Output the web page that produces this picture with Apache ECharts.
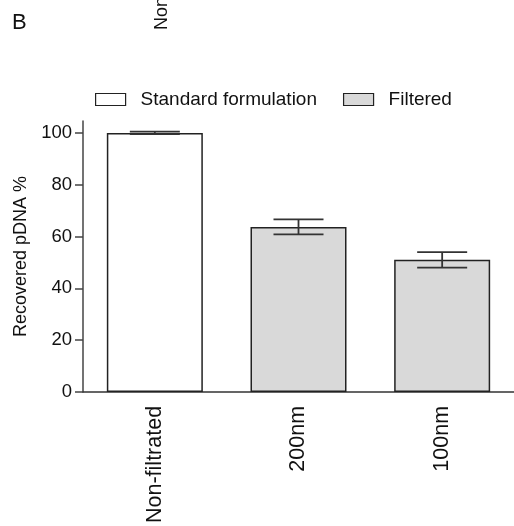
<!DOCTYPE html>
<html>
<head>
<meta charset="utf-8">
<script src="https://cdn.jsdelivr.net/npm/echarts@6/dist/echarts.min.js"></script>
<style>
  html, body { margin: 0; padding: 0; background: #fff; }
  #main { width: 514px; height: 526px; }
</style>
</head>
<body>
<div id="main"></div>
<script>
var categories = ['Non-filtrated', '200nm', '100nm'];
var standardValues = [100, null, null];
var filteredValues = [null, 63.7, 51.0];
var errorValues = [0.5, 2.9, 3.0];
var yTicks = [0, 20, 40, 60, 80, 100];

var font = 'Liberation Sans, Arial, sans-serif';

var means = categories.map(function (c, i) {
  return standardValues[i] != null ? standardValues[i] : filteredValues[i];
});
var errData = categories.map(function (c, i) {
  return [i, means[i] - errorValues[i], means[i] + errorValues[i]];
});

var option = {
  animation: false,
  backgroundColor: '#fff',
  textStyle: { fontFamily: font },
  graphic: [
    {
      type: 'text', left: 12, top: 12,
      style: { text: 'B', fontSize: 22, fontFamily: font, fill: '#111' }
    },
    {
      type: 'text', x: 153, y: 30, rotation: Math.PI / 2,
      style: { text: 'Non-filtrated', fontSize: 18, fontFamily: font, fill: '#111',
        align: 'left', verticalAlign: 'top' }
    }
  ],
  legend: {
    top: 85,
    left: 90,
    icon: 'rect',
    itemWidth: 30,
    itemHeight: 12,
    itemGap: 26,
    textStyle: { fontSize: 19, color: '#111', fontFamily: font, padding: [0, 0, 0, 10] },
    data: [
      { name: 'Standard formulation', itemStyle: { color: '#fff', borderColor: '#222', borderWidth: 1.2 } },
      { name: 'Filtered', itemStyle: { color: '#d9d9d9', borderColor: '#222', borderWidth: 1.2 } }
    ]
  },
  grid: { left: 83, right: -4, top: 121, bottom: 132, containLabel: false },
  xAxis: {
    type: 'category',
    data: categories,
    axisLine: { lineStyle: { color: '#333', width: 1.5 } },
    axisTick: { alignWithLabel: true, length: 7, lineStyle: { color: '#333', width: 1.5 } },
    axisLabel: { rotate: 90, fontSize: 21.5, color: '#111', margin: 14, fontFamily: font, interval: 0 }
  },
  yAxis: {
    type: 'value',
    min: 0,
    max: 104.6,
    interval: 20,
    name: 'Recovered pDNA %',
    nameLocation: 'middle',
    nameGap: 45,
    nameTextStyle: { fontSize: 18, color: '#111', fontFamily: font },
    splitLine: { show: false },
    axisLine: { show: true, lineStyle: { color: '#444', width: 1.5 } },
    axisTick: { show: true, length: 8, customValues: yTicks, lineStyle: { color: '#444', width: 1.5 } },
    axisLabel: { fontSize: 18.5, color: '#111', margin: 11, fontFamily: font, customValues: yTicks }
  },
  series: [
    {
      name: 'Standard formulation',
      type: 'bar',
      barWidth: 96,
      barGap: '-100%',
      data: standardValues,
      itemStyle: { color: '#fff', borderColor: '#222', borderWidth: 1.5 }
    },
    {
      name: 'Filtered',
      type: 'bar',
      barWidth: 96,
      data: filteredValues,
      itemStyle: { color: '#d9d9d9', borderColor: '#222', borderWidth: 1.5 }
    },
    {
      type: 'custom',
      name: 'error',
      data: errData,
      z: 10,
      renderItem: function (params, api) {
        var x = api.value(0);
        var lo = api.coord([x, api.value(1)]);
        var hi = api.coord([x, api.value(2)]);
        var hw = 25;
        var style = { stroke: '#333', lineWidth: 1.8 };
        return {
          type: 'group',
          children: [
            { type: 'line', shape: { x1: lo[0], y1: lo[1], x2: hi[0], y2: hi[1] }, style: style },
            { type: 'line', shape: { x1: lo[0] - hw, y1: lo[1], x2: lo[0] + hw, y2: lo[1] }, style: style },
            { type: 'line', shape: { x1: hi[0] - hw, y1: hi[1], x2: hi[0] + hw, y2: hi[1] }, style: style }
          ]
        };
      }
    }
  ]
};

var myChart = echarts.init(document.getElementById('main'));
myChart.setOption(option, true);
</script>
</body>
</html>
